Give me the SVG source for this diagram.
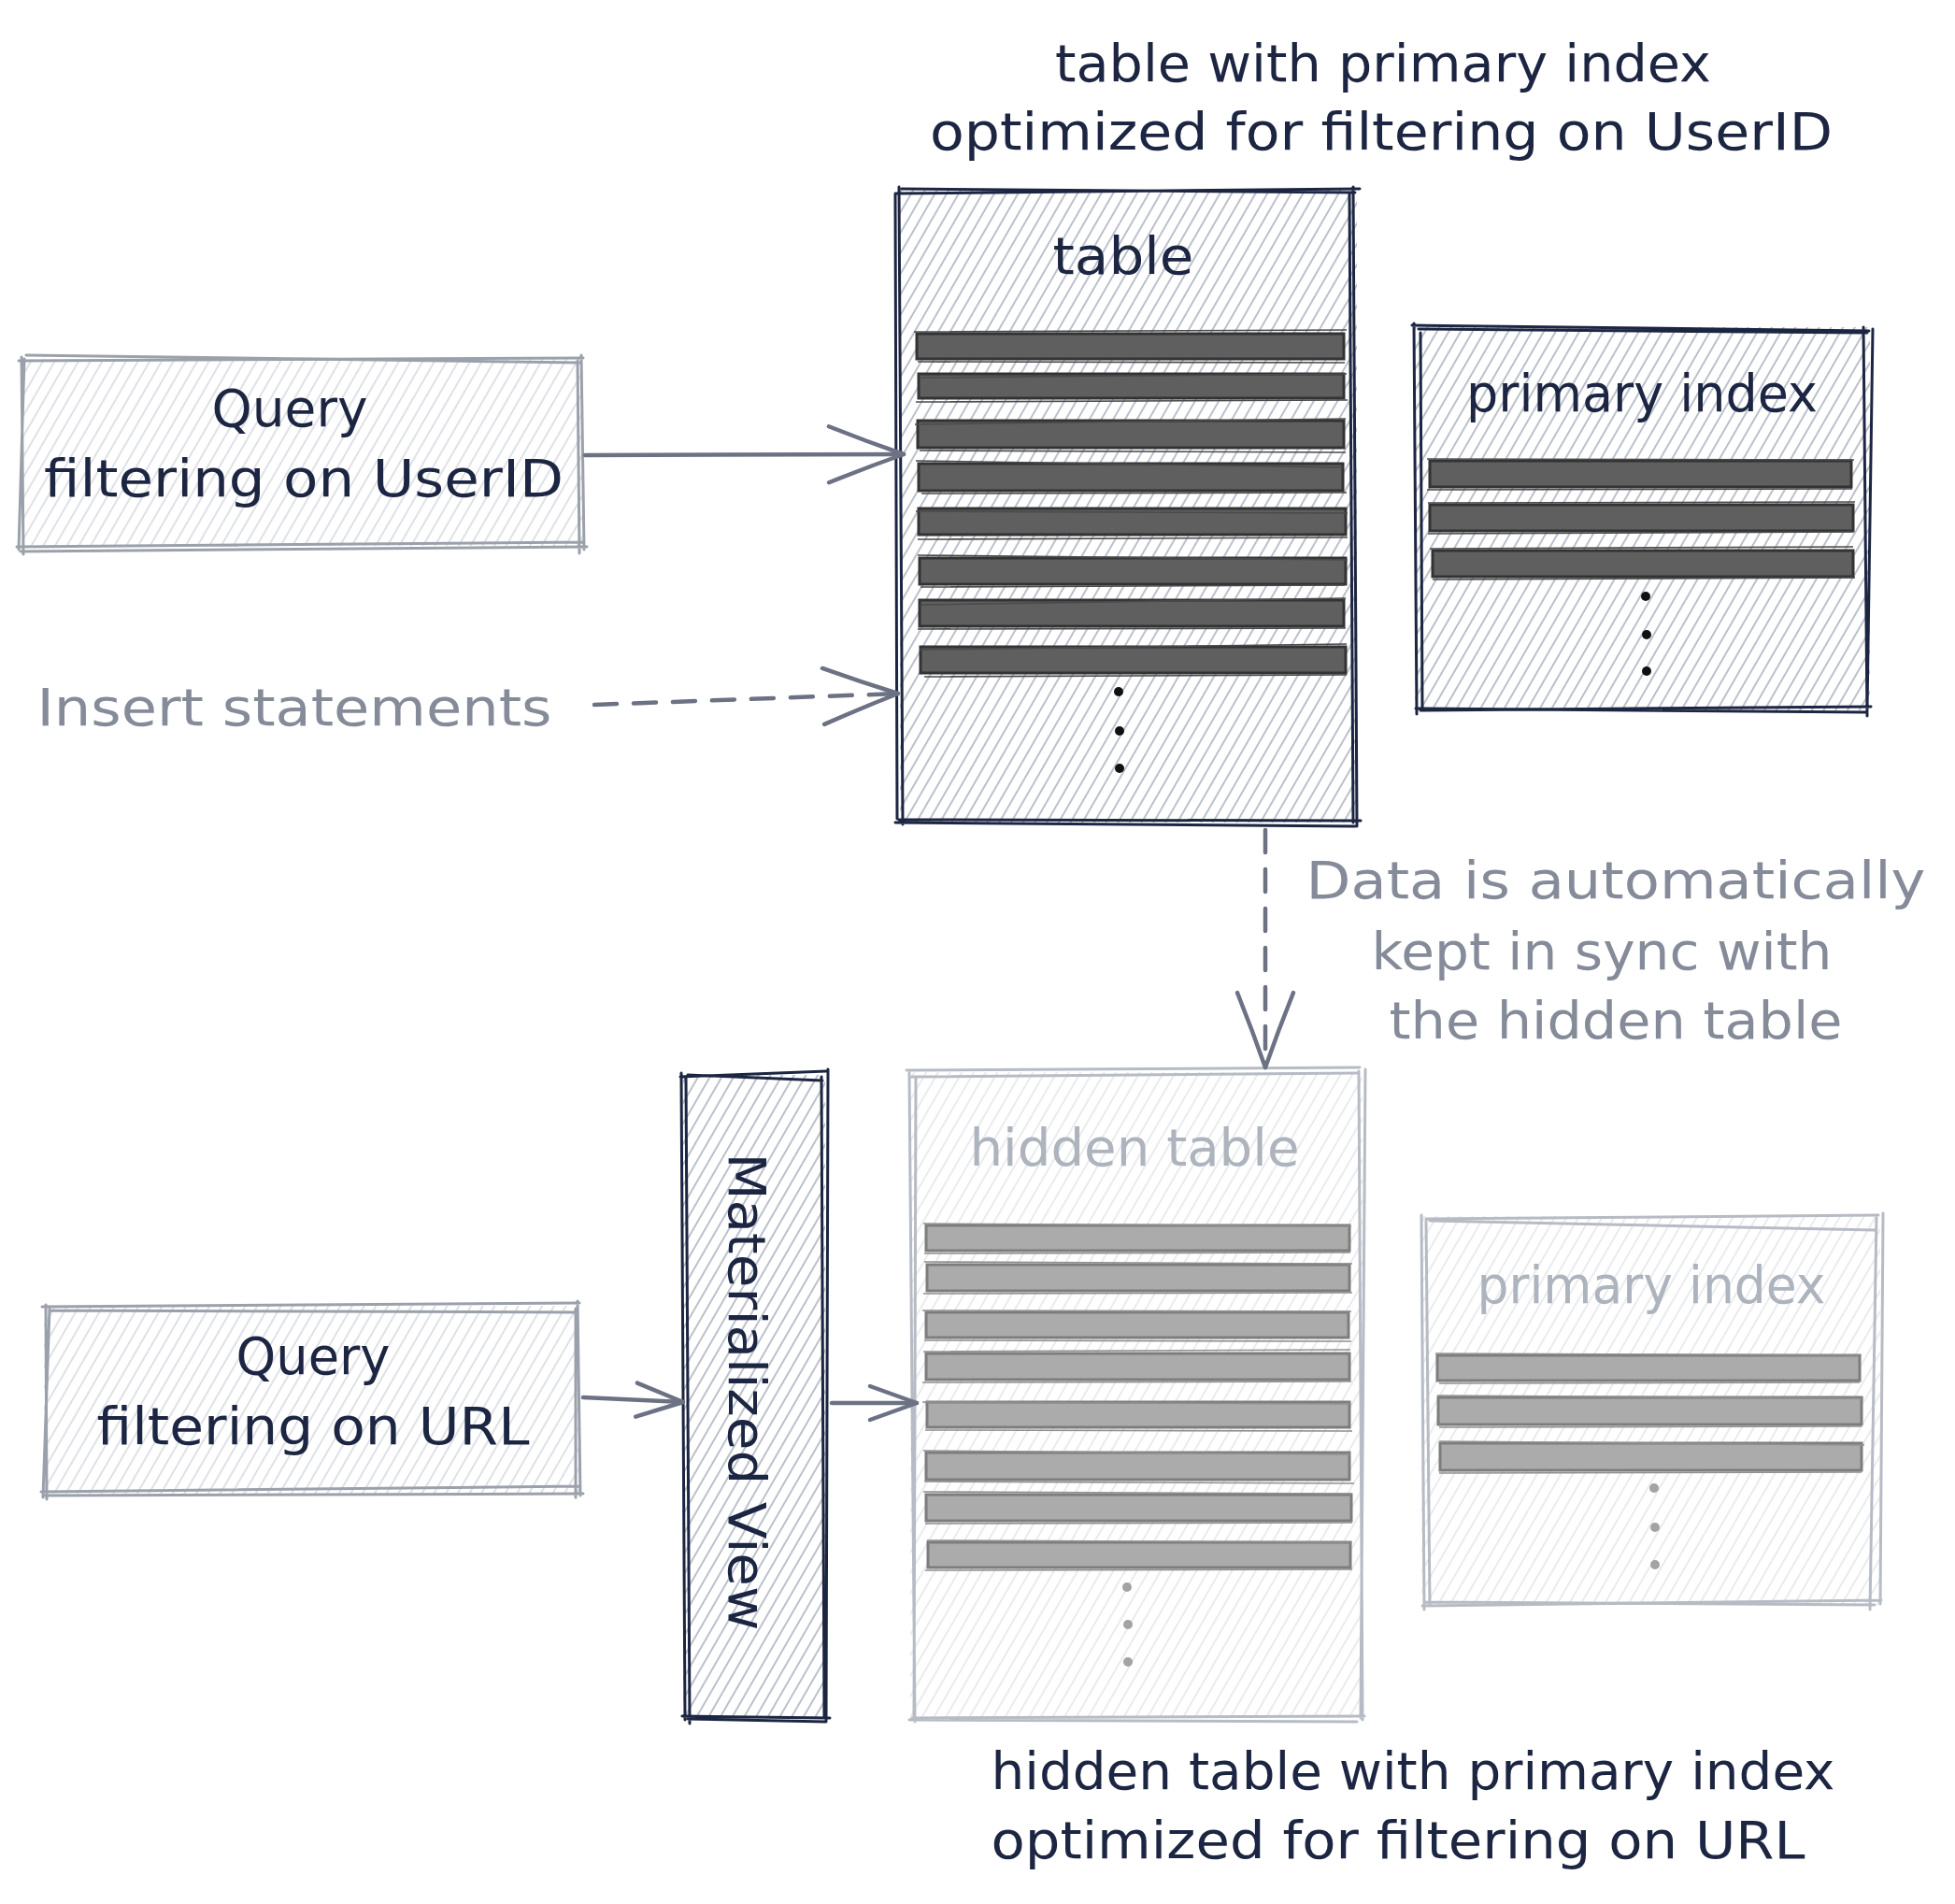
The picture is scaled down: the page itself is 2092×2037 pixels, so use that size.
<svg xmlns="http://www.w3.org/2000/svg" width="2092" height="2037" viewBox="0 0 2092 2037">
<style>
.t{font-family:"DejaVu Sans","Liberation Sans",sans-serif;font-size:56px;text-anchor:middle}
.navy{fill:#1c2541}
.gray{fill:#858b99}
.lgray{fill:#aeb4bd}
.sk{fill:none;stroke-linecap:round;stroke-linejoin:round}
.skN{stroke:#1c2541;stroke-width:3}
.skG{stroke:#9ba1ab;stroke-width:3}
.skL{stroke:#b6bbc4;stroke-width:3}
.barD{fill:#5f5f5f;stroke:#333;stroke-width:3}
.barD2{fill:none;stroke:#4a4a4a;stroke-width:1.6}
.barL{fill:#ababab;stroke:#7d7d7d;stroke-width:3}
.barL2{fill:none;stroke:#8f8f8f;stroke-width:1.6}
.conn{fill:none;stroke:#6c7283;stroke-width:4.5;stroke-linecap:round}
.dash{stroke-dasharray:24 18}
</style>
<defs>
<pattern id="hDark" width="11" height="11" patternUnits="userSpaceOnUse" patternTransform="rotate(30)">
<line x1="2" y1="0" x2="2" y2="11" stroke="#b8bec9" stroke-width="1.9"/>
</pattern>
<pattern id="hMid" width="11" height="11" patternUnits="userSpaceOnUse" patternTransform="rotate(30)">
<line x1="2" y1="0" x2="2" y2="11" stroke="#d3d7de" stroke-width="1.5"/>
</pattern>
<pattern id="hLight" width="11" height="11" patternUnits="userSpaceOnUse" patternTransform="rotate(30)">
<line x1="2" y1="0" x2="2" y2="11" stroke="#e2e5ea" stroke-width="1.5"/>
</pattern>
<marker id="arrB" markerUnits="userSpaceOnUse" viewBox="-90 -40 100 80" refX="0" refY="0" markerWidth="100" markerHeight="80" orient="auto" overflow="visible">
<path d="M-80,-30 Q-40,-14 0,0 Q-40,14 -80,30" fill="none" stroke="#6c7283" stroke-width="4.5" stroke-linecap="round" stroke-linejoin="round"/>
</marker>
<marker id="arrS" markerUnits="userSpaceOnUse" viewBox="-60 -25 70 50" refX="0" refY="0" markerWidth="70" markerHeight="50" orient="auto" overflow="visible">
<path d="M-50,-18 L0,0 L-50,18" fill="none" stroke="#6c7283" stroke-width="4.5" stroke-linecap="round" stroke-linejoin="round"/>
</marker>
</defs>
<rect width="2092" height="2037" fill="#ffffff"/>

<g id="title-top">
<text class="t navy" x="1480" y="87" textLength="702" lengthAdjust="spacingAndGlyphs">table with primary index</text>
<text class="t navy" x="1478" y="160" textLength="966" lengthAdjust="spacingAndGlyphs">optimized for filtering on UserID</text>
</g>

<g id="query-userid">
<rect x="24" y="384" width="599" height="200" fill="url(#hMid)"/>
<path class="sk skG" d="M20,386 L624,383 M622,380 L625,588 M628,585 L22,590 M25,593 L23,382 M28,380 L620,388 M618,386 L620,592 M624,580 L18,585 M20,588 L26,384"/>
<text class="t navy" x="310" y="456" textLength="167" lengthAdjust="spacingAndGlyphs">Query</text>
<text class="t navy" x="325" y="531" textLength="556" lengthAdjust="spacingAndGlyphs">filtering on UserID</text>
</g>

<g id="insert-statements">
<text class="t gray" x="315" y="776" textLength="551" lengthAdjust="spacingAndGlyphs">Insert statements</text>
</g>

<g id="table">
<rect x="963" y="203" width="489" height="677" fill="url(#hDark)"/>
<path class="sk skN" d="M958,207 L1455,202 M1448,200 L1452,884 M1456,878 L962,877 M966,882 L962,200 M965,202 L1450,206 M1444,208 L1448,880 M1450,884 L958,880 M960,876 L958,208"/>
<text class="t navy" x="1202" y="293" textLength="151" lengthAdjust="spacingAndGlyphs">table</text>
<rect class="barD" x="981" y="357" width="457" height="27"/>
<rect class="barD" x="983" y="400" width="455" height="26"/>
<rect class="barD" x="982" y="450" width="456" height="29"/>
<rect class="barD" x="983" y="496" width="454" height="29"/>
<rect class="barD" x="983" y="544" width="457" height="28"/>
<rect class="barD" x="984" y="597" width="456" height="28"/>
<rect class="barD" x="984" y="642" width="454" height="28"/>
<rect class="barD" x="985" y="692" width="455" height="28"/>
<path class="barD2" d="M978,355 L1441,353 M986,404 L1441,400 M979,454 L1440,448 M980,493 L1437,500 M980,547 L1442,549 M982,594 L1442,599 M986,647 L1440,640 M984,695 L1441,689 M982,387 L1439,388 M980,430 L1442,428 M984,482 L1440,484 M986,528 L1441,527 M982,577 L1442,575 M985,628 L1439,626 M982,673 L1440,672 M989,724 L1441,722"/>
<circle cx="1197" cy="740" r="5" fill="#111"/>
<circle cx="1198" cy="782" r="5" fill="#111"/>
<circle cx="1198" cy="822" r="5" fill="#111"/>
</g>

<g id="primary-index">
<rect x="1514" y="350" width="487" height="410" fill="url(#hDark)"/>
<path class="sk skN" d="M1511,348 L2000,354 M2004,352 L1998,760 M2002,756 L1520,760 M1516,764 L1513,346 M1518,352 L1998,356 M1994,350 L1998,766 M1998,762 L1515,758 M1522,760 L1520,356"/>
<text class="t navy" x="1757" y="440" textLength="376" lengthAdjust="spacingAndGlyphs">primary index</text>
<rect class="barD" x="1530" y="493" width="451" height="28"/>
<rect class="barD" x="1530" y="540" width="453" height="28"/>
<rect class="barD" x="1533" y="589" width="450" height="28"/>
<path class="barD2" d="M1527,491 L1984,492 M1528,538 L1985,537 M1530,587 L1983,585 M1527,524 L1982,523 M1528,571 L1983,569 M1533,620 L1985,618"/>
<circle cx="1761" cy="638" r="5" fill="#111"/>
<circle cx="1762" cy="679" r="5" fill="#111"/>
<circle cx="1762" cy="718" r="5" fill="#111"/>
</g>

<g id="sync-label">
<text class="t gray" x="1729" y="961" textLength="663" lengthAdjust="spacingAndGlyphs">Data is automatically</text>
<text class="t gray" x="1714" y="1037" textLength="493" lengthAdjust="spacingAndGlyphs">kept in sync with</text>
<text class="t gray" x="1729" y="1111" textLength="485" lengthAdjust="spacingAndGlyphs">the hidden table</text>
</g>

<g id="materialized-view">
<rect x="731" y="1150" width="152" height="688" fill="url(#hDark)"/>
<path class="sk skN" d="M728,1152 L884,1146 M886,1144 L884,1842 M888,1838 L730,1836 M733,1840 L729,1148 M736,1150 L880,1156 M879,1152 L882,1836 M884,1842 L736,1839 M738,1844 L734,1152"/>
<text class="t navy" transform="translate(780,1489) rotate(90)" x="0" y="0" textLength="511" lengthAdjust="spacingAndGlyphs">Materialized View</text>
</g>

<g id="hidden-table">
<rect x="974" y="1147" width="484" height="691" fill="url(#hLight)"/>
<path class="sk skL" d="M970,1145 L1455,1142 M1454,1146 L1458,1840 M1460,1836 L976,1838 M979,1842 L973,1148 M976,1152 L1452,1148 M1461,1144 L1456,1838 M1452,1842 L973,1840 M978,1838 L980,1152"/>
<text class="t lgray" x="1214" y="1247" textLength="353" lengthAdjust="spacingAndGlyphs">hidden table</text>
<rect class="barL" x="991" y="1311" width="453" height="27"/>
<rect class="barL" x="992" y="1353" width="452" height="28"/>
<rect class="barL" x="991" y="1404" width="452" height="27"/>
<rect class="barL" x="991" y="1448" width="453" height="28"/>
<rect class="barL" x="992" y="1500" width="452" height="27"/>
<rect class="barL" x="991" y="1554" width="453" height="29"/>
<rect class="barL" x="991" y="1599" width="455" height="28"/>
<rect class="barL" x="993" y="1650" width="452" height="27"/>
<path class="barL2" d="M988,1309 L1446,1312 M989,1350 L1447,1352 M987,1402 L1446,1403 M988,1446 L1445,1444 M987,1500 L1446,1502 M988,1552 L1445,1556 M988,1596 L1447,1598 M992,1648 L1447,1650 M989,1341 L1445,1340 M988,1384 L1447,1383 M989,1434 L1446,1435 M987,1479 L1446,1478 M990,1530 L1447,1531 M989,1585 L1449,1587 M990,1630 L1447,1629 M990,1680 L1447,1679"/>
<circle cx="1206" cy="1698" r="5" fill="#a3a3a3"/>
<circle cx="1207" cy="1738" r="5" fill="#a3a3a3"/>
<circle cx="1207" cy="1778" r="5" fill="#a3a3a3"/>
</g>

<g id="primary-index-hidden">
<rect x="1521" y="1301" width="491" height="416" fill="url(#hLight)"/>
<path class="sk skL" d="M1526,1304 L2010,1300 M2015,1298 L2012,1716 M2013,1712 L1522,1718 M1524,1722 L1521,1300 M1530,1306 L2006,1316 M2008,1300 L2001,1722 M2006,1717 L1524,1714 M1530,1718 L1526,1306"/>
<text class="t lgray" x="1767" y="1394" textLength="373" lengthAdjust="spacingAndGlyphs">primary index</text>
<rect class="barL" x="1538" y="1450" width="452" height="27"/>
<rect class="barL" x="1539" y="1495" width="453" height="29"/>
<rect class="barL" x="1541" y="1544" width="451" height="29"/>
<path class="barL2" d="M1536,1448 L1992,1450 M1538,1493 L1994,1496 M1540,1542 L1995,1546 M1540,1480 L1990,1479 M1540,1527 L1992,1526 M1540,1576 L1992,1575"/>
<circle cx="1770" cy="1592" r="5" fill="#a3a3a3"/>
<circle cx="1771" cy="1634" r="5" fill="#a3a3a3"/>
<circle cx="1771" cy="1674" r="5" fill="#a3a3a3"/>
</g>

<g id="query-url">
<rect x="47" y="1397" width="573" height="201" fill="url(#hMid)"/>
<path class="sk skG" d="M45,1398 L620,1394 M618,1392 L621,1600 M624,1598 L47,1600 M50,1604 L49,1396 M53,1402 L618,1404 M616,1400 L616,1602 M620,1590 L44,1596 M46,1602 L53,1400"/>
<text class="t navy" x="335" y="1470" textLength="165" lengthAdjust="spacingAndGlyphs">Query</text>
<text class="t navy" x="335" y="1545" textLength="463" lengthAdjust="spacingAndGlyphs">filtering on URL</text>
</g>

<g id="title-bottom">
<text class="t navy" x="1512" y="1914" textLength="903" lengthAdjust="spacingAndGlyphs">hidden table with primary index</text>
<text class="t navy" x="1496" y="1988" textLength="871" lengthAdjust="spacingAndGlyphs">optimized for filtering on URL</text>
</g>

<g id="connectors">
<path class="conn" d="M626,487 L967,486" marker-end="url(#arrB)"/>
<path class="conn dash" d="M636,754 L961,742" marker-end="url(#arrB)"/>
<path class="conn dash" d="M1354,888 L1354,1142" marker-end="url(#arrB)"/>
<path class="conn" d="M624,1495 L731,1500" marker-end="url(#arrS)"/>
<path class="conn" d="M890,1501 L981,1501" marker-end="url(#arrS)"/>
</g>
</svg>
